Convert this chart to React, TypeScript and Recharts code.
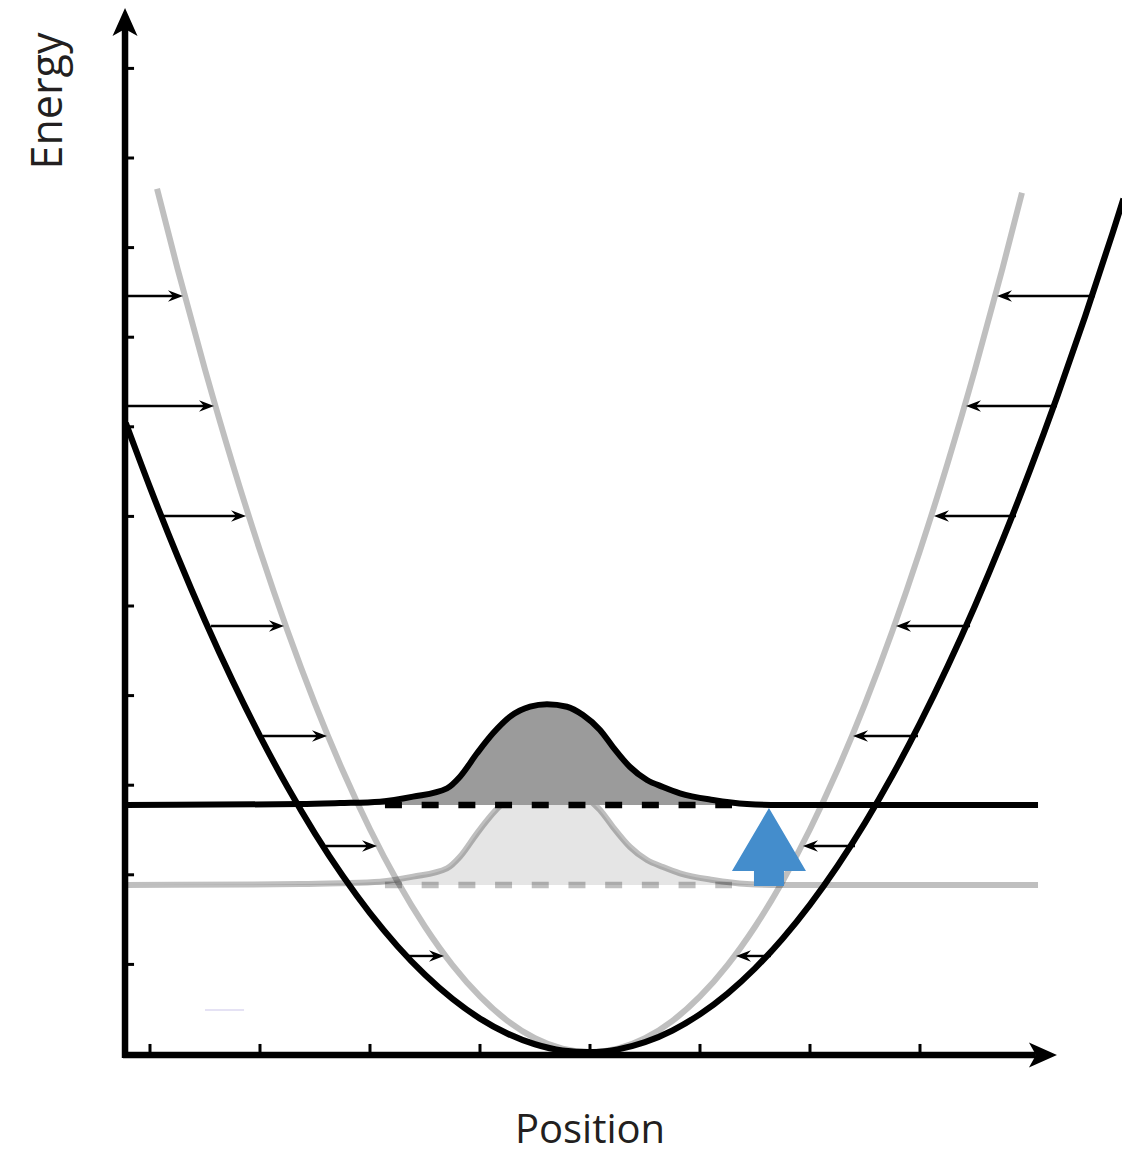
import React from 'react';
import { ComposedChart, Line, Area, XAxis, YAxis, ReferenceLine } from 'recharts';

// ---------- data (position x, energy e) ----------
const xTicks = [-4, -3, -2, -1, 0, 1, 2, 3];
const yTicks = [1, 2, 3, 4, 5, 6, 7, 8, 9, 10, 11];

const blackWell = [
  { x: -4.22, e: 7.042 }, { x: -4.0, e: 6.324 }, { x: -3.75, e: 5.555 }, { x: -3.5, e: 4.836 },
  { x: -3.25, e: 4.167 }, { x: -3.0, e: 3.548 }, { x: -2.75, e: 2.979 }, { x: -2.5, e: 2.46 },
  { x: -2.25, e: 1.991 }, { x: -2.0, e: 1.572 }, { x: -1.75, e: 1.203 }, { x: -1.5, e: 0.884 },
  { x: -1.25, e: 0.615 }, { x: -1.0, e: 0.396 }, { x: -0.75, e: 0.227 }, { x: -0.5, e: 0.108 },
  { x: -0.25, e: 0.039 }, { x: 0, e: 0.02 }, { x: 0.25, e: 0.051 }, { x: 0.5, e: 0.132 },
  { x: 0.75, e: 0.263 }, { x: 1.0, e: 0.444 }, { x: 1.25, e: 0.675 }, { x: 1.5, e: 0.956 },
  { x: 1.75, e: 1.287 }, { x: 2.0, e: 1.668 }, { x: 2.25, e: 2.099 }, { x: 2.5, e: 2.58 },
  { x: 2.75, e: 3.111 }, { x: 3.0, e: 3.692 }, { x: 3.25, e: 4.323 }, { x: 3.5, e: 5.004 },
  { x: 3.75, e: 5.735 }, { x: 4.0, e: 6.516 }, { x: 4.25, e: 7.347 }, { x: 4.5, e: 8.228 },
  { x: 4.75, e: 9.159 }, { x: 4.85, e: 9.546 },
];

const greyWell = [
  { x: -3.936, e: 9.656 }, { x: -3.75, e: 8.767 }, { x: -3.5, e: 7.64 }, { x: -3.25, e: 6.59 },
  { x: -3.0, e: 5.618 }, { x: -2.75, e: 4.724 }, { x: -2.5, e: 3.908 }, { x: -2.25, e: 3.169 },
  { x: -2.0, e: 2.508 }, { x: -1.75, e: 1.925 }, { x: -1.5, e: 1.42 }, { x: -1.25, e: 0.992 },
  { x: -1.0, e: 0.642 }, { x: -0.75, e: 0.37 }, { x: -0.5, e: 0.176 }, { x: -0.25, e: 0.059 },
  { x: 0, e: 0.02 }, { x: 0.25, e: 0.059 }, { x: 0.5, e: 0.176 }, { x: 0.75, e: 0.37 },
  { x: 1.0, e: 0.642 }, { x: 1.25, e: 0.992 }, { x: 1.5, e: 1.42 }, { x: 1.75, e: 1.925 },
  { x: 2.0, e: 2.508 }, { x: 2.25, e: 3.169 }, { x: 2.5, e: 3.908 }, { x: 2.75, e: 4.724 },
  { x: 3.0, e: 5.618 }, { x: 3.25, e: 6.59 }, { x: 3.5, e: 7.64 }, { x: 3.75, e: 8.767 },
  { x: 3.927, e: 9.612 },
];

const upperLevel = 2.779;
const lowerLevel = 1.886;

const upperWave = [
  { x: -4.227, e: 2.779 }, { x: -2.636, e: 2.789 }, { x: -2.273, e: 2.8 }, { x: -1.909, e: 2.816 },
  { x: -1.609, e: 2.872 }, { x: -1.3, e: 2.965 }, { x: -1.182, e: 3.095 }, { x: -1.027, e: 3.356 },
  { x: -0.882, e: 3.579 }, { x: -0.727, e: 3.765 }, { x: -0.545, e: 3.876 }, { x: -0.391, e: 3.903 },
  { x: -0.209, e: 3.876 }, { x: -0.064, e: 3.783 }, { x: 0.091, e: 3.616 }, { x: 0.209, e: 3.426 },
  { x: 0.364, e: 3.203 }, { x: 0.518, e: 3.058 }, { x: 0.664, e: 2.98 }, { x: 0.818, e: 2.91 },
  { x: 1.118, e: 2.835 }, { x: 1.427, e: 2.79 }, { x: 1.727, e: 2.779 }, { x: 4.073, e: 2.779 },
];

const lowerWave = [
  { x: -4.227, e: 1.886 }, { x: -2.636, e: 1.896 }, { x: -2.273, e: 1.906 }, { x: -1.909, e: 1.923 },
  { x: -1.609, e: 1.979 }, { x: -1.3, e: 2.072 }, { x: -1.182, e: 2.202 }, { x: -1.027, e: 2.463 },
  { x: -0.882, e: 2.686 }, { x: -0.727, e: 2.872 }, { x: -0.545, e: 2.983 }, { x: -0.391, e: 3.01 },
  { x: -0.209, e: 2.983 }, { x: -0.064, e: 2.89 }, { x: 0.091, e: 2.723 }, { x: 0.209, e: 2.533 },
  { x: 0.364, e: 2.31 }, { x: 0.518, e: 2.165 }, { x: 0.664, e: 2.087 }, { x: 0.818, e: 2.017 },
  { x: 1.118, e: 1.942 }, { x: 1.427, e: 1.897 }, { x: 1.727, e: 1.886 }, { x: 4.073, e: 1.886 },
];

const dashedFrom = -1.864;
const dashedTo = 1.291;

const arrowLevels = [8.46, 7.232, 6.004, 4.777, 3.549, 2.321, 1.094];
const leftFrom = [-4.209, -4.209, -3.873, -3.445, -2.973, -2.4, -1.645];
const leftTo = [-3.7, -3.418, -3.127, -2.782, -2.391, -1.936, -1.327];
const rightFrom = [4.591, 4.245, 3.873, 3.455, 2.982, 2.409, 1.645];
const rightTo = [3.7, 3.418, 3.127, 2.782, 2.391, 1.936, 1.327];

const excitationX = 1.627;
const excitationFrom = 1.875;
const excitationTo = 2.746;

const axisX = -4.227;
const axisY = -0.011;
const axisXEnd = 4.245;
const axisYEnd = 11.674;

// ---------- layout ----------
const W = 1122;
const H = 1156;
const X_DOMAIN: [number, number] = [-5.3636, 4.8364];
const Y_DOMAIN: [number, number] = [-1.1384, 11.7634];
const FONT = '"Open Sans", "Noto Sans", sans-serif';

const makeArrow = (hl: number, hw: number, notch: number, sw: number, color: string) => (props: any) => {
  const { x1, y1, x2, y2 } = props;
  const dx = x2 - x1;
  const dy = y2 - y1;
  const len = Math.hypot(dx, dy) || 1;
  const ux = dx / len;
  const uy = dy / len;
  const nx = -uy;
  const ny = ux;
  const bx = x2 - ux * hl;
  const by = y2 - uy * hl;
  const mx = x2 - ux * notch;
  const my = y2 - uy * notch;
  const pts = [
    [x2, y2],
    [bx + nx * hw, by + ny * hw],
    [mx, my],
    [bx - nx * hw, by - ny * hw],
  ]
    .map((p) => p.join(','))
    .join(' ');
  return (
    <g>
      <line x1={x1} y1={y1} x2={mx} y2={my} stroke={color} strokeWidth={sw} />
      <polygon points={pts} fill={color} />
    </g>
  );
};

const SmallArrow = makeArrow(15, 5.8, 10, 2.4, '#000');
const AxisArrow = makeArrow(28, 12.5, 21, 6.5, '#000');

const BlockArrow = (props: any) => {
  const { x1, y1, y2 } = props;
  const top = Math.min(y1, y2);
  const bottom = Math.max(y1, y2);
  const headLen = 63;
  const headHalf = 37;
  const shaftHalf = 15;
  const hb = top + headLen;
  const pts = [
    [x1, top],
    [x1 + headHalf, hb],
    [x1 + shaftHalf, hb],
    [x1 + shaftHalf, bottom],
    [x1 - shaftHalf, bottom],
    [x1 - shaftHalf, hb],
    [x1 - headHalf, hb],
  ]
    .map((p) => p.join(','))
    .join(' ');
  return <polygon points={pts} fill="#448dcc" />;
};

export default function App() {
  return (
    <div style={{ position: 'absolute', left: 0, top: 0, width: W, height: H, background: '#fff' }}>
      <ComposedChart width={W} height={H} margin={{ top: 0, right: 0, bottom: 0, left: 0 }}>
        <XAxis type="number" dataKey="x" domain={X_DOMAIN} allowDataOverflow hide />
        <YAxis type="number" dataKey="e" domain={Y_DOMAIN} allowDataOverflow hide />

        {/* lower (ground) wave packet */}
        <Area
          data={lowerWave}
          dataKey="e"
          type="monotone"
          baseValue={lowerLevel}
          fill="#000"
          fillOpacity={0.1}
          stroke="#000"
          strokeOpacity={0.25}
          strokeWidth={6}
          dot={false}
          activeDot={false}
          isAnimationActive={false}
        />
        <ReferenceLine
          segment={[{ x: dashedFrom, y: lowerLevel }, { x: dashedTo, y: lowerLevel }]}
          stroke="#000"
          strokeOpacity={0.25}
          strokeWidth={6.5}
          strokeDasharray="17 19.7"
        />

        {/* grey (ground-state) potential */}
        <Line
          data={greyWell}
          dataKey="e"
          type="monotone"
          stroke="#000"
          strokeOpacity={0.25}
          strokeWidth={6}
          dot={false}
          activeDot={false}
          isAnimationActive={false}
        />

        {/* upper (excited) wave packet */}
        <Area
          data={upperWave}
          dataKey="e"
          type="monotone"
          baseValue={upperLevel}
          fill="#9b9b9b"
          fillOpacity={1}
          stroke="#000"
          strokeWidth={6}
          dot={false}
          activeDot={false}
          isAnimationActive={false}
        />
        <ReferenceLine
          segment={[{ x: dashedFrom, y: upperLevel }, { x: dashedTo, y: upperLevel }]}
          stroke="#000"
          strokeWidth={6.5}
          strokeDasharray="17 19.7"
        />

        {/* black potential */}
        <Line
          data={blackWell}
          dataKey="e"
          type="monotone"
          stroke="#000"
          strokeWidth={6.2}
          dot={false}
          activeDot={false}
          isAnimationActive={false}
        />

        {/* force arrows */}
        {arrowLevels.map((lv, i) => (
          <ReferenceLine
            key={'l' + i}
            segment={[{ x: leftFrom[i], y: lv }, { x: leftTo[i], y: lv }]}
            shape={SmallArrow}
          />
        ))}
        {arrowLevels.map((lv, i) => (
          <ReferenceLine
            key={'r' + i}
            segment={[{ x: rightFrom[i], y: lv }, { x: rightTo[i], y: lv }]}
            shape={SmallArrow}
          />
        ))}

        {/* excitation arrow */}
        <ReferenceLine
          segment={[{ x: excitationX, y: excitationFrom }, { x: excitationX, y: excitationTo }]}
          shape={BlockArrow}
        />

        {/* small stray mark */}
        <ReferenceLine
          segment={[{ x: -3.5, y: 0.491 }, { x: -3.145, y: 0.491 }]}
          stroke="#dcd9f0"
          strokeWidth={1.5}
        />

        {/* axis ticks */}
        {xTicks.map((t) => (
          <ReferenceLine
            key={'xt' + t}
            segment={[{ x: t, y: axisY }, { x: t, y: 0.112 }]}
            stroke="#000"
            strokeWidth={3}
          />
        ))}
        {yTicks.map((t) => (
          <ReferenceLine
            key={'yt' + t}
            segment={[{ x: axisX, y: t }, { x: -4.145, y: t }]}
            stroke="#000"
            strokeWidth={3}
          />
        ))}

        {/* axes with arrowheads */}
        <ReferenceLine
          segment={[{ x: axisX, y: -0.045 }, { x: axisX, y: axisYEnd }]}
          shape={AxisArrow}
        />
        <ReferenceLine
          segment={[{ x: -4.245, y: axisY }, { x: axisXEnd, y: axisY }]}
          shape={AxisArrow}
        />

        <text
          transform="translate(62,101) rotate(-90)"
          textAnchor="middle"
          fontFamily={FONT}
          fontSize={43}
          fill="#231f20"
        >
          Energy
        </text>
        <text x={590} y={1143} textAnchor="middle" fontFamily={FONT} fontSize={40} fill="#231f20">
          Position
        </text>
      </ComposedChart>
    </div>
  );
}
